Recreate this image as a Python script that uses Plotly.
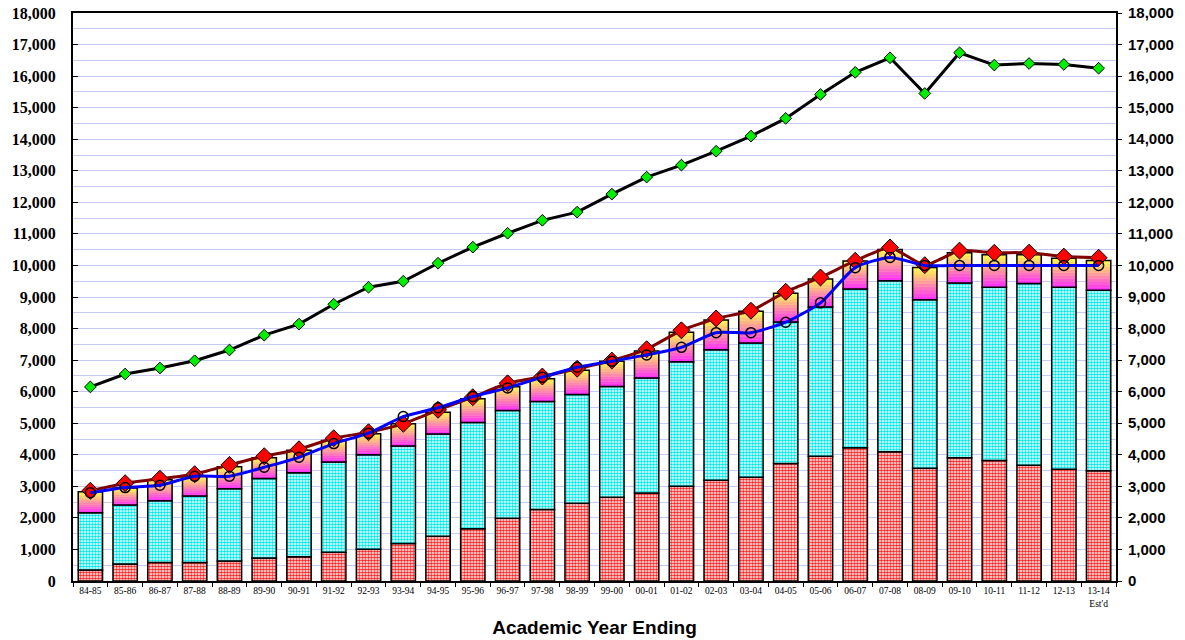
import plotly.graph_objects as go

categories = ["84-85", "85-86", "86-87", "87-88", "88-89", "89-90", "90-91", "91-92", "92-93", "93-94",
              "94-95", "95-96", "96-97", "97-98", "98-99", "99-00", "00-01", "01-02", "02-03", "03-04",
              "04-05", "05-06", "06-07", "07-08", "08-09", "09-10", "10-11", "11-12", "12-13", "13-14"]
tick_labels = categories[:-1] + ["13-14<br>Est'd"]

# stacked bar segments
seg_red = [345, 535, 590, 590, 630, 725, 770, 915, 1010, 1190, 1420, 1655, 1990, 2265, 2465, 2655,
           2790, 3005, 3195, 3290, 3720, 3950, 4225, 4095, 3575, 3905, 3815, 3670, 3540, 3490]
seg_cyan = [1820, 1870, 1955, 2100, 2295, 2525, 2660, 2855, 2990, 3085, 3235, 3370, 3415, 3425, 3445, 3510,
            3640, 3940, 4130, 4255, 4490, 4735, 5030, 5420, 5340, 5540, 5495, 5755, 5770, 5725]
seg_top = [660, 545, 665, 635, 695, 655, 710, 685, 665, 710, 695, 750, 750, 720, 770, 795,
           855, 935, 950, 1000, 905, 885, 885, 990, 1020, 960, 1030, 910, 915, 945]

# line series
line_black = [6150, 6560, 6750, 6980, 7320, 7790, 8140, 8770, 9310, 9500, 10070, 10580, 11020, 11430, 11690, 12260,
              12800, 13180, 13620, 14100, 14660, 15420, 16120, 16580, 15450, 16740, 16350, 16400, 16370, 16250]
line_red = [2860, 3100, 3240, 3385, 3680, 3955, 4175, 4525, 4715, 4980, 5425, 5825, 6265, 6480, 6725, 6985,
            7345, 7945, 8320, 8565, 9165, 9620, 10150, 10570, 10010, 10470, 10400, 10405, 10280, 10245]
line_blue = [2795, 2960, 3035, 3320, 3320, 3605, 3920, 4355, 4685, 5210, 5490, 5845, 6120, 6460, 6775, 6965,
             7165, 7405, 7870, 7870, 8200, 8815, 9930, 10255, 10000, 10000, 10000, 10000, 10000, 10000]

BAR_W = 0.7
fig = go.Figure()

base_cyan = [r for r in seg_red]
base_top = [r + c for r, c in zip(seg_red, seg_cyan)]

fig.add_trace(go.Bar(
    x=categories, y=seg_red, base=[0] * len(categories), width=BAR_W,
    marker=dict(color="#ff2020", line=dict(color="black", width=1.5),
                pattern=dict(shape=".", fillmode="replace", bgcolor="white", fgcolor="#ff2020",
                             size=3, solidity=0.6)),
    hoverinfo="skip", showlegend=False))
fig.add_trace(go.Bar(
    x=categories, y=seg_cyan, base=base_cyan, width=BAR_W,
    marker=dict(color="#00e6e6", line=dict(color="black", width=1.5),
                pattern=dict(shape=".", fillmode="replace", bgcolor="white", fgcolor="#00e6e6",
                             size=3, solidity=0.6)),
    hoverinfo="skip", showlegend=False))

# gradient (magenta -> yellow) for the top segment, drawn as thin bands
N = 10
c0 = (255, 40, 255)
c1 = (255, 255, 70)
for k in range(N):
    t = (k + 0.5) / N
    col = "rgb(%d,%d,%d)" % tuple(round(a + (b - a) * t) for a, b in zip(c0, c1))
    fig.add_trace(go.Bar(
        x=categories, y=[s / N for s in seg_top],
        base=[b + s * k / N for b, s in zip(base_top, seg_top)], width=BAR_W,
        marker=dict(color=col, line=dict(color=col, width=0.5)),
        hoverinfo="skip", showlegend=False))
fig.add_trace(go.Bar(
    x=categories, y=seg_top, base=base_top, width=BAR_W,
    marker=dict(color="rgba(0,0,0,0)", line=dict(color="black", width=1.5)),
    hoverinfo="skip", showlegend=False))

fig.add_trace(go.Scatter(
    x=categories, y=line_black, mode="lines+markers",
    line=dict(color="black", width=3),
    marker=dict(symbol="diamond", size=9, color="#00ee00", line=dict(color="black", width=1)),
    showlegend=False))
fig.add_trace(go.Scatter(
    x=categories, y=line_red, mode="lines+markers",
    line=dict(color="#800000", width=3, shape="spline", smoothing=0.5),
    marker=dict(symbol="diamond", size=13, color="#ff0000", line=dict(color="black", width=1)),
    showlegend=False))
fig.add_trace(go.Scatter(
    x=categories, y=line_blue, mode="lines+markers",
    line=dict(color="#0000ff", width=3, shape="spline", smoothing=0.6),
    marker=dict(symbol="circle-open", size=10, color="black", line=dict(width=1.5)),
    showlegend=False))
# invisible trace to activate the right axis
fig.add_trace(go.Scatter(x=categories, y=line_black, yaxis="y2", mode="lines",
                         line=dict(width=0), opacity=0, hoverinfo="skip", showlegend=False))

grid_col = "#c8c8f4"
fig.update_layout(
    width=1185, height=640,
    margin=dict(l=73, r=69, t=13, b=59),
    barmode="overlay", bargap=0.3,
    plot_bgcolor="white", paper_bgcolor="white",
    xaxis=dict(
        type="category", categoryorder="array", categoryarray=categories,
        range=[-0.5, len(categories) - 0.5], autorange=False,
        tickmode="array", tickvals=categories, ticktext=tick_labels,
        tickfont=dict(family="Liberation Serif", size=9.5, color="black"),
        ticks="outside", tickson="boundaries", ticklen=4, tickcolor="black",
        showline=True, linecolor="black", linewidth=2, mirror=True,
        showgrid=False, automargin=False,
        title=dict(text="Academic Year Ending", standoff=13,
                   font=dict(family="Liberation Sans", size=19, color="black", weight="bold")),
    ),
    yaxis=dict(
        range=[0, 18000], dtick=1000, tickformat=",d",
        tickfont=dict(family="Liberation Serif", size=16, color="black", weight="bold"),
        ticks="inside", ticklen=5, tickcolor="black", ticklabelstandoff=12,
        showline=True, linecolor="black", linewidth=2,
        showgrid=True, gridcolor=grid_col, gridwidth=1,
        minor=dict(dtick=500, showgrid=True, gridcolor=grid_col, gridwidth=1),
        zeroline=False, automargin=False,
    ),
    yaxis2=dict(
        range=[0, 18000], dtick=1000, tickformat=",d", overlaying="y", side="right",
        tickfont=dict(family="Liberation Sans", size=15, color="black", weight="bold"),
        ticks="outside", ticklen=4, tickcolor="black", ticklabelstandoff=3,
        showline=True, linecolor="black", linewidth=2,
        showgrid=False, zeroline=False, automargin=False,
    ),
)

fig.write_html("out.html", config={"displayModeBar": False},
               post_script="document.body.style.margin='0px';")
